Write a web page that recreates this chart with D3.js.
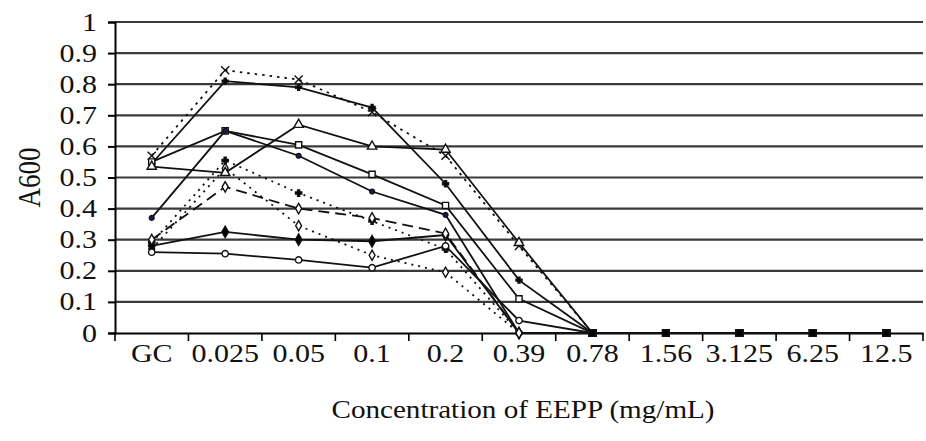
<!DOCTYPE html>
<html><head><meta charset="utf-8">
<script src="https://cdn.jsdelivr.net/npm/d3@7"></script>
<style>body{margin:0;background:#fff}svg{display:block}</style>
</head><body>
<svg id="c" width="926" height="441"></svg>
<script>
const categories = ["GC","0.025","0.05","0.1","0.2","0.39","0.78","1.56","3.125","6.25","12.5"];
const yTicks = [0,0.1,0.2,0.3,0.4,0.5,0.6,0.7,0.8,0.9,1];
const sXDotted   = [0.57,0.845,0.815,0.71,0.57,0.28,0,0,0,0,0];
const sPlusSolid = [0.545,0.81,0.79,0.725,0.48,0.17,0,0,0,0,0];
const sSquare    = [0.55,0.65,0.605,0.51,0.41,0.11,0,0,0,0,0];
const sTriangle  = [0.535,0.515,0.67,0.60,0.59,0.29,0,0,0,0,0];
const sBlueDot   = [0.37,0.65,0.57,0.455,0.38,0,0,0,0,0,0];
const sDiamond   = [0.28,0.325,0.30,0.295,0.315,0,0,0,0,0,0];
const sCircle    = [0.26,0.255,0.235,0.21,0.28,0.04,0,0,0,0,0];
const sDashed    = [0.30,0.47,0.40,0.37,0.32,0,0,0,0,0,0];
const sDotPlus   = [0.29,0.555,0.45,0.36,0.27,0,0,0,0,0,0];
const sDotDiam   = [0.27,0.53,0.345,0.25,0.195,0,0,0,0,0,0];

const series = [
  {v:sDotPlus, dash:"2,5", sym:d3.symbolCross, fill:"#000", size:22},
  {v:sDotDiam, dash:"2,5", sym:d3.symbolDiamond, fill:"#fff", size:30},
  {v:sXDotted, dash:"2.5,5", sym:d3.symbolX, fill:"#000", size:45},
  {v:sPlusSolid, dash:null, sym:d3.symbolCross, fill:"#000", size:20},
  {v:sSquare, dash:null, sym:d3.symbolSquare, fill:"#fff", size:38},
  {v:sTriangle, dash:null, sym:d3.symbolTriangle, fill:"#fff", size:38},
  {v:sBlueDot, dash:null, sym:d3.symbolCircle, fill:"#1a1a66", size:18},
  {v:sDiamond, dash:null, sym:d3.symbolDiamond, fill:"#000", size:38},
  {v:sCircle, dash:null, sym:d3.symbolCircle, fill:"#fff", size:32},
  {v:sDashed, dash:"11,6", sym:d3.symbolDiamond, fill:"#fff", size:32}
];

const svg = d3.select("#c");
const L=115, R=923, T=22, B=333;
const x = d3.scaleBand().domain(categories).range([L,R]);
const y = d3.scaleLinear().domain([0,1]).range([B,T]);
const font = "'Liberation Serif','DejaVu Serif',serif";
function stretch(k){
  return sel => sel.each(function(){
    const w = this.getComputedTextLength();
    d3.select(this).attr("textLength", w*k).attr("lengthAdjust","spacingAndGlyphs");
  });
}

// gridlines
svg.append("g").selectAll("line").data(yTicks.filter(d=>d>0)).join("line")
  .attr("x1",L).attr("x2",R).attr("y1",d=>y(d)).attr("y2",d=>y(d))
  .attr("stroke","#3a3a3a").attr("stroke-width",2.2);

// y axis
const ya = svg.append("g").attr("transform",`translate(${L},0)`)
  .call(d3.axisLeft(y).tickValues(yTicks).tickFormat(d3.format("~g")).tickSize(7).tickPadding(11));
ya.select(".domain").attr("stroke","#000").attr("stroke-width",2);
ya.selectAll(".tick line").attr("stroke","#000").attr("stroke-width",2);
ya.selectAll("text").attr("font-family",font).attr("font-size",25).attr("fill","#111").call(stretch(1.2));

// x axis
const xa = svg.append("g").attr("transform",`translate(0,${B})`)
  .call(d3.axisBottom(x).tickSize(0).tickPadding(11));
xa.select(".domain").attr("stroke","#000").attr("stroke-width",2);
xa.selectAll("text").attr("font-family",font).attr("font-size",25).attr("fill","#111").call(stretch(1.2));
svg.append("g").selectAll("line").data(d3.range(categories.length+1)).join("line")
  .attr("x1",i=>L+i*x.step()).attr("x2",i=>L+i*x.step())
  .attr("y1",B).attr("y2",B+8).attr("stroke","#000").attr("stroke-width",1.6);

// lines
const line = d3.line().x((d,i)=>x(categories[i])+x.bandwidth()/2).y(d=>y(d));
series.forEach(s=>{
  svg.append("path").datum(s.v).attr("d",line).attr("fill","none")
    .attr("stroke","#111").attr("stroke-width",1.8)
    .attr("stroke-dasharray",s.dash);
});
series.forEach(s=>{
  const sym = d3.symbol().type(s.sym).size(s.size);
  svg.append("g").selectAll("path").data(s.v).join("path")
    .attr("transform",(d,i)=>`translate(${x(categories[i])+x.bandwidth()/2},${y(d)})`)
    .attr("d",(d,i)=> i>=6 ? d3.symbol().type(d3.symbolSquare).size(42)() : sym())
    .attr("fill",(d,i)=> i>=6 ? "#000" : s.fill)
    .attr("stroke","#111").attr("stroke-width",1.4);
});

// axis titles
svg.append("text").attr("x",(L+R)/2 + 4).attr("y",418).attr("text-anchor","middle")
  .attr("font-family",font).attr("font-size",26).attr("fill","#111")
  .text("Concentration of EEPP (mg/mL)").call(stretch(1.12));
svg.append("text").attr("transform",`translate(40,${(T+B)/2}) rotate(-90) scale(1,1.2)`)
  .attr("text-anchor","middle").attr("font-family",font).attr("font-size",27).attr("fill","#111")
  .text("A600");
</script>
</body></html>
